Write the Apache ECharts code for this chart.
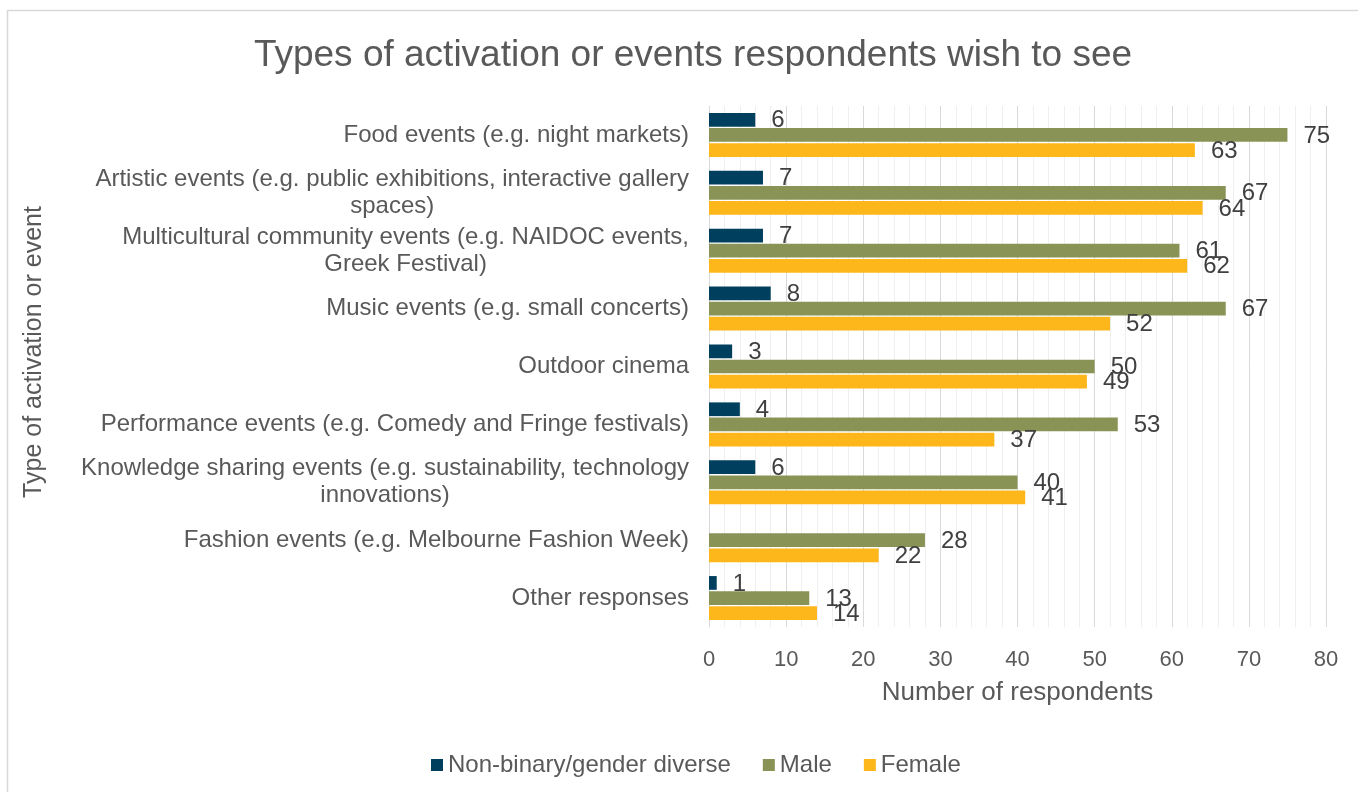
<!DOCTYPE html>
<html>
<head>
<meta charset="utf-8">
<style>
  html, body { margin: 0; padding: 0; background: #ffffff; }
  #chart { width: 1358px; height: 792px; }
</style>
<script src="https://cdn.jsdelivr.net/npm/echarts@6/dist/echarts.min.js"></script>
</head>
<body>
<div id="chart"></div>
<script>
// Event types (top to bottom), with manual line breaks for the long ones
const categories = [
  'Food events (e.g. night markets)',
  'Artistic events (e.g. public exhibitions, interactive gallery\nspaces)',
  'Multicultural community events (e.g. NAIDOC events,\nGreek Festival)',
  'Music events (e.g. small concerts)',
  'Outdoor cinema',
  'Performance events (e.g. Comedy and Fringe festivals)',
  'Knowledge sharing events (e.g. sustainability, technology\ninnovations)',
  'Fashion events (e.g. Melbourne Fashion Week)',
  'Other responses'
];

const seriesNames = ['Non-binary/gender diverse', 'Male', 'Female'];

// Respondent counts per category
const nonBinary = [6, 7, 7, 8, 3, 4, 6, null, 1];
const male      = [75, 67, 61, 67, 50, 53, 40, 28, 13];
const female    = [63, 64, 62, 52, 49, 37, 41, 22, 14];

const xTicks = { min: 0, max: 80, interval: 10 };

const FONT = "'Liberation Sans', Arial, sans-serif";
const TEXT = '#595959';
const colors = ['#003F5E', '#8A9356', '#FDB71B'];

const chart = echarts.init(document.getElementById('chart'), null, { renderer: 'canvas' });

function barSeries(name, data, color) {
  return {
    name: name,
    type: 'bar',
    data: data,
    barCategoryGap: '24%',
    barGap: '10%',
    itemStyle: { color: color },
    label: {
      show: true,
      position: 'right',
      distance: 16,
      offset: [0, 1],
      color: '#404040',
      fontFamily: FONT,
      fontSize: 24,
      formatter: p => (p.value == null ? '' : String(p.value))
    }
  };
}

chart.setOption({
  animation: false,
  backgroundColor: '#ffffff',
  textStyle: { fontFamily: FONT },
  title: {
    text: 'Types of activation or events respondents wish to see',
    left: 688,
    top: 32,
    textAlign: 'center',
    textStyle: { color: TEXT, fontFamily: FONT, fontSize: 37, fontWeight: 'normal' }
  },
  legend: {
    data: seriesNames,
    left: 426,
    top: 748,
    icon: 'rect',
    itemWidth: 12,
    itemHeight: 12,
    itemGap: 32,
    textStyle: { color: TEXT, fontFamily: FONT, fontSize: 24 }
  },
  grid: { left: 709, right: 32, top: 106, bottom: 165, containLabel: false },
  xAxis: {
    type: 'value',
    min: xTicks.min,
    max: xTicks.max,
    interval: xTicks.interval,
    name: 'Number of respondents',
    nameLocation: 'middle',
    nameGap: 53,
    nameTextStyle: { color: TEXT, fontFamily: FONT, fontSize: 26 },
    axisLine: { show: false },
    axisTick: { show: false },
    axisLabel: { color: TEXT, fontFamily: FONT, fontSize: 22, margin: 22 },
    splitLine: { show: true, lineStyle: { color: '#d9d9d9', width: 1 } },
    minorTick: { show: false, splitNumber: 5 },
    minorSplitLine: { show: true, lineStyle: { color: '#efefef', width: 1 } }
  },
  yAxis: {
    type: 'category',
    data: categories,
    inverse: true,
    axisLine: { show: true, lineStyle: { color: '#d9d9d9', width: 1 } },
    axisTick: { show: false },
    axisLabel: {
      margin: 20,
      color: TEXT,
      fontFamily: FONT,
      fontSize: 24,
      lineHeight: 27,
      formatter: v => v.split('\n').map(l => '{c|' + l + '}').join('\n'),
      rich: {
        c: { align: 'center', color: TEXT, fontFamily: FONT, fontSize: 24, lineHeight: 27 }
      }
    },
    splitLine: { show: false }
  },
  series: [
    barSeries(seriesNames[0], nonBinary, colors[0]),
    barSeries(seriesNames[1], male, colors[1]),
    barSeries(seriesNames[2], female, colors[2])
  ],
  graphic: [
    {
      type: 'rect',
      silent: true,
      shape: { x: 7.5, y: 10.5, width: 1400, height: 900 },
      style: { fill: 'none', stroke: '#d9d9d9', lineWidth: 1.5 }
    },
    {
      // vertical category-axis title
      type: 'text',
      silent: true,
      x: 34,
      y: 352,
      rotation: Math.PI / 2,
      style: {
        text: 'Type of activation or event',
        font: "25px 'Liberation Sans', Arial, sans-serif",
        fill: TEXT,
        align: 'center',
        verticalAlign: 'middle'
      }
    }
  ]
});
</script>
</body>
</html>
